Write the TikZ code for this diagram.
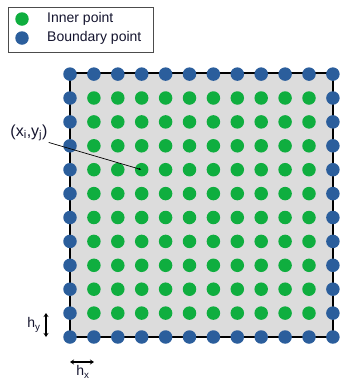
\documentclass[tikz,border=0pt]{standalone}
\usepackage{fontspec}
\setmainfont{Liberation Sans}
\usetikzlibrary{arrows.meta}
\definecolor{innergreen}{HTML}{0FAE3F}
\definecolor{boundblue}{HTML}{2B5E9C}
\definecolor{domaingray}{HTML}{DCDCDC}
\definecolor{textnavy}{HTML}{14142E}

\begin{document}
\begin{tikzpicture}[x=1pt, y=-1pt,
    inner/.style={circle, fill=innergreen, minimum size=13.5pt, inner sep=0pt},
    bound/.style={circle, fill=boundblue, minimum size=13.5pt, inner sep=0pt},
    lbl/.style={inner sep=1pt, text=textnavy, font=\fontsize{14}{16}\selectfont},
    dim/.style={{Stealth[length=4pt,width=5pt]}-{Stealth[length=4pt,width=5pt]}, line width=1.3pt},
    pointer/.style={-{Latex[length=3pt]}, line width=0.7pt}
]
\useasboundingbox (0,0) rectangle (343,381);

% Legend
\draw[gray!60!black, line width=1pt] (8,7) rectangle (153,52);
\node[inner] (leg-in) at (22,19) {};
\node[bound] (leg-bd) at (22,38) {};
\node[lbl, anchor=west] (leg-in-txt) at (46,19) {Inner point};
\node[lbl, anchor=west] (leg-bd-txt) at (46,38) {Boundary point};

% Domain
\fill[domaingray] (70,73) rectangle (333,337);
\draw[line width=1.2pt] (70,73) rectangle (333,337);

\foreach \i in {0,...,11}{
  \foreach \j in {0,...,11}{
    \pgfmathtruncatemacro\edge{(\i==0)||(\i==11)||(\j==0)||(\j==11)}
    \ifnum\edge=1 \def\kind{bound}\else\def\kind{inner}\fi
    \node[\kind] (p-\i-\j) at (70+23.9*\i, 337-23.9*\j) {};
  }
}

% Labelled point
\node[lbl, font=\fontsize{16}{18}\selectfont] (xy) at (29,133) {(x\textsubscript{i},y\textsubscript{j})};
\draw[pointer] (xy.south east) -- (p-3-7.center);

% Spacings
\coordinate (hy-top) at (46,313);
\coordinate (hy-bot) at (46,337);
\draw[dim] (hy-top) -- (hy-bot);
\node[lbl] (hy) at (34,325) {h\textsubscript{y}};

\coordinate (hx-left) at (70,362);
\coordinate (hx-right) at (94,362);
\draw[dim] (hx-left) -- (hx-right);
\node[lbl] (hx) at (83,372) {h\textsubscript{x}};
\end{tikzpicture}
\end{document}
